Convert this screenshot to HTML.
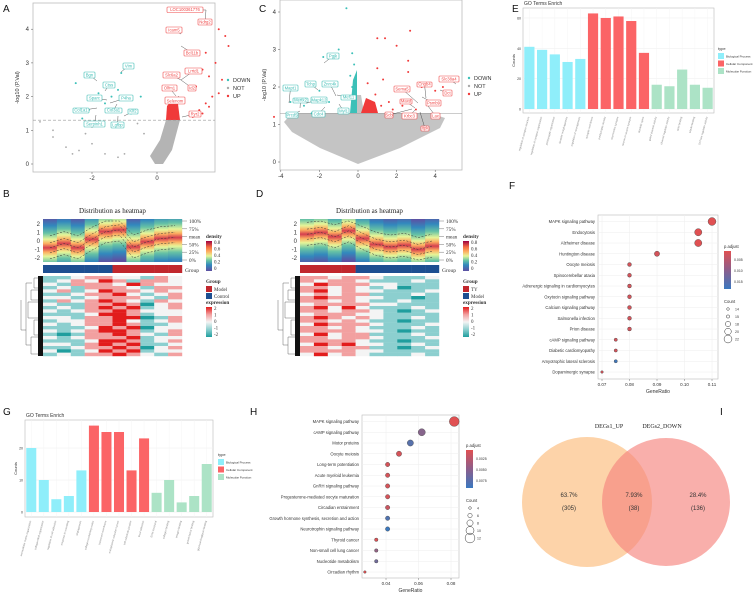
<!DOCTYPE html>
<html><head><meta charset="utf-8"><style>
body{margin:0;background:#fff;}
svg{display:block;font-family:"Liberation Sans",sans-serif;}
</style></head><body>
<svg id="fig" width="753" height="592" viewBox="0 0 753 592" xmlns="http://www.w3.org/2000/svg">
<g id="root"></g>
</svg>
<script>
// ---------- DATA ----------
const volcAUp = [[1.3,1.6],[1.5,1.8],[1.2,2.3],[1.6,2.6],[1.8,3.0],[1.5,3.3],[2.1,3.8],[2.2,3.5],[1.9,4.0],[3.9,4.6],[3.6,1.4],[1.7,2.0],[1.4,1.5],[1.1,1.4],[1.9,2.1],[1.6,1.7],[2.0,2.5],[1.4,2.8]];
const volcADown = [[-2.3,1.35],[-2.1,1.6],[-1.6,1.8],[-1.4,2.0],[-1.2,2.2],[-1.1,2.7],[-0.9,1.9],[-0.5,2.0],[-2.5,2.4],[-1.8,2.1],[-0.8,1.5]];
const volcANot = [[-3.2,1.0],[-3.2,0.8],[-2.8,0.5],[-2.4,0.4],[-2.2,0.9],[-2.0,1.1],[-1.6,0.3],[-1.2,0.2],[-1.0,0.3],[-0.6,1.2],[-2.6,0.3],[-2.0,0.6],[-3.6,1.25],[-0.4,0.9]];
const volcALabelsUp = ["LOC100361776","Ndrg2","Icam5","Bcl11b","Lrrtd1","Slc6a2","Olfm1","Id2","Selenom","Ryr2"];
const volcALabelsDown = ["Vim","Bgn","Ctss","Sparc","P4ha","Col1a1","Col3a1","Klf2","Serpinh1","Lgfbp"];
const volcCUp = [[1.0,3.3],[1.4,3.3],[2.7,3.5],[2.0,3.1],[2.6,2.7],[1.0,2.5],[1.3,2.2],[2.6,2.4],[3.3,2.0],[4.0,1.9],[4.4,2.0],[0.9,1.8],[1.6,1.6],[2.3,1.5],[3.0,1.4],[0.6,1.6],[0.8,1.4],[1.2,1.5],[1.8,1.4],[0.5,2.1]];
const volcCDown = [[-0.6,4.1],[-1.0,3.0],[-0.3,2.9],[-0.2,2.6],[-0.4,2.3],[-0.3,2.0],[-0.2,1.8],[-1.8,2.8],[-2.0,1.9],[-3.5,1.6],[-2.8,1.5],[-2.4,1.3],[-0.5,1.7],[-1.5,1.6],[-0.3,1.4]];
const volcCLabelsUp = ["Sema5","Cngb4","Slc38a4","Dct","Psmb9","Maxd","Scb","Krbc3","Lax","Itpk"];
const volcCLabelsDown = ["Pgjk","Mapt1","Tchp","Znrc4k","Mertk2","Mapk12","Mef11","Prcd5","Cdc4","Myl1"];
const densMeansB = [-0.8,-0.3,-0.8,0.2,1.1,1.3,-0.7,-0.1,0.3,0.4];
const densMeansD = [0.8,1.0,0.5,1.2,0.3,-0.4,-0.7,-0.5,-1.0,-0.6];
const groupB = ["Control","Control","Control","Control","Control","Model","Model","Model","Model","Model"];
const groupD = ["TY","TY","TY","TY","Model","Model","Model","Model","Model","Model"];
const heatB = ["1123322132","1232431332","2133324322","1213332133","2312433232","1123342123","2212333213","1323432132","2113343023","1213434123","2123343222","1112443122","2213344013","1223342123","2123343112","1112434022","2123443123","1013343213","2123334122","1112443123","2213434112","1123343023","2012434122","1213343213"];
const heatD = ["3323321112","3233211121","2433322111","3323212011","3423221112","2323311121","3433221101","3323211211","2333322111","3424211121","3323321012","2333221111","3432321121","3323211011","2433321112","3323211121","3333221011","2423311121","3323321112","3333211011","2434221121","3323311012","3333221111","2423211121"];
const goTypes = ["Biological Process","Biological Process","Biological Process","Biological Process","Biological Process","Cellular Component","Cellular Component","Cellular Component","Cellular Component","Cellular Component","Molecular Function","Molecular Function","Molecular Function","Molecular Function","Molecular Function"];
const goTermsE = ["regulation of synapse structure","regulation of synapse organization","postsynaptic organization","dendrite morphogenesis","regulation of neurogenesis","synaptic membrane","postsynaptic density","asymmetric synapse","neuron to neuron synapse","dendritic spine","gated channel activity","channel regulator activity","actin binding","tubulin binding","GTPase regulator activity"];
const goCountsE = [41,39,36,31,33,63,60,61,58,37,16,15,26,16,14];
const goTermsG = ["extracellular matrix organization","collagen fibril organization","regulation of cell adhesion","response to wounding","angiogenesis","collagen-containing matrix","basement membrane","endoplasmic reticulum lumen","cell-substrate junction","focal adhesion","ECM structural","collagen binding","integrin binding","growth factor binding","glycosaminoglycan binding"];
const goCountsG = [20,10,4,5,13,27,25,25,13,23,6,10,3,5,15];
const keggTermsF = ["MAPK signaling pathway","Endocytosis","Alzheimer disease","Huntington disease","Oocyte meiosis","Spinocerebellar ataxia","Adrenergic signaling in cardiomyocytes","Oxytocin signaling pathway","Calcium signaling pathway","Salmonella infection","Prion disease","cAMP signaling pathway","Diabetic cardiomyopathy","Amyotrophic lateral sclerosis","Dopaminergic synapse"];
const keggRatioF = [0.110,0.105,0.105,0.090,0.080,0.080,0.080,0.080,0.080,0.080,0.080,0.075,0.075,0.075,0.070];
const keggCountF = [22,21,21,18,16,16,16,16,16,16,16,15,15,15,14];
const keggPadjF = [0.002,0.002,0.002,0.003,0.003,0.003,0.003,0.003,0.003,0.003,0.003,0.003,0.003,0.0145,0.003];
const keggTermsH = ["MAPK signaling pathway","cAMP signaling pathway","Motor proteins","Oocyte meiosis","Long-term potentiation","Acute myeloid leukemia","GnRH signaling pathway","Progesterone-mediated oocyte maturation","Circadian entrainment","Growth hormone synthesis, secretion and action","Neurotrophin signaling pathway","Thyroid cancer","Non-small cell lung cancer","Nucleotide metabolism","Circadian rhythm"];
const keggRatioH = [0.082,0.062,0.055,0.048,0.041,0.041,0.041,0.041,0.041,0.041,0.041,0.034,0.034,0.034,0.027];
const keggCountH = [12,9,8,7,6,6,6,6,6,6,6,5,5,5,4];
const keggPadjH = [0.001,0.005,0.0072,0.0015,0.0015,0.0015,0.0015,0.0015,0.002,0.0075,0.0085,0.0012,0.0045,0.006,0.001];
const vennLabels = ["DEGs1_UP","DEGs2_DOWN"];
const vennPct = ["63.7%","7.93%","28.4%"];
const vennCounts = [305,38,136];

// ---------- HELPERS ----------
const NS="http://www.w3.org/2000/svg";
const root=document.getElementById('root');
function el(tag,attrs,parent,text){const e=document.createElementNS(NS,tag);for(const k in attrs)e.setAttribute(k,attrs[k]);if(text!==undefined)e.textContent=text;(parent||root).appendChild(e);return e;}
function txt(x,y,s,size,opt,parent){const o=Object.assign({x:x,y:y,'font-size':size,fill:'#333'},opt||{});return el('text',o,parent,s);}
const defs=el('defs',{});

const letters=[["A",3,12],["C",259,12],["E",512,12],["B",3,197],["D",256,197],["F",509,189],["G",3,415],["H",250,415],["I",720,415]];
letters.forEach(l=>{const t=txt(l[1],l[2],l[0],10,{fill:'#111'});

});

// ---------- VOLCANO ----------
function volcano(cfg){
 const g=el('g',{});  
 const X=v=>cfg.x0+v*cfg.sx, Y=v=>cfg.y0-v*cfg.sy;
 el('rect',{x:cfg.fx0,y:cfg.fy0,width:cfg.fx1-cfg.fx0,height:cfg.fy1-cfg.fy0,fill:'#fff',stroke:'#bbb','stroke-width':0.8},g);
 cfg.cloud(g,X,Y);
 cfg.not.forEach(p=>{const c=el('circle',{cx:X(p[0]),cy:Y(p[1]),r:0.9,fill:'#aaa'},g);});
 el('line',{x1:cfg.fx0,x2:cfg.fx1,y1:Y(1.3),y2:Y(1.3),stroke:'#999','stroke-width':0.6,'stroke-dasharray':cfg.dash},g);
 cfg.down.forEach(p=>{const c=el('circle',{cx:X(p[0]),cy:Y(p[1]),r:1,fill:'#3cc0b8'},g);});
 cfg.up.forEach(p=>{const c=el('circle',{cx:X(p[0]),cy:Y(p[1]),r:1,fill:'#f03a3a'},g);});
 cfg.ylab.forEach(v=>{el('line',{x1:cfg.fx0-2,x2:cfg.fx0,y1:Y(v),y2:Y(v),stroke:'#555','stroke-width':0.5},g);txt(cfg.fx0-4,Y(v)+2,String(v),6,{'text-anchor':'end'},g);});
 cfg.xlab.forEach(v=>{el('line',{x1:X(v),x2:X(v),y1:cfg.fy1,y2:cfg.fy1+2,stroke:'#555','stroke-width':0.5},g);txt(X(v),cfg.fy1+8,String(v),6,{'text-anchor':'middle'},g);});
 const yt=txt(cfg.fx0-14,(cfg.fy0+cfg.fy1)/2,"-log10 (P.Val)",5.5,{'text-anchor':'middle',transform:`rotate(-90 ${cfg.fx0-14} ${(cfg.fy0+cfg.fy1)/2})`},g);
 
 cfg.boxes.forEach(b=>{
  const col=b[5]?'#f04848':'#3cbcb4';
  el('line',{x1:b[6],y1:b[7],x2:(b[0]+b[2])/2,y2:(b[1]+b[3])/2,stroke:'#333','stroke-width':0.4},g);
  const r=el('rect',{x:b[0],y:b[1],width:b[2]-b[0],height:b[3]-b[1],fill:'#fff',stroke:col,'stroke-width':0.6,rx:0.8},g);
  
  txt((b[0]+b[2])/2,b[3]-1.4,b[4],4.2,{'text-anchor':'middle',fill:col},g);
 });
 [['DOWN','#3cc0b8'],['NOT','#aaa'],['UP','#f03a3a']].forEach((l,i)=>{
  const c=el('circle',{cx:cfg.lx,cy:cfg.ly+i*8,r:1.2,fill:l[1]},g);
  txt(cfg.lx+5,cfg.ly+i*8+2,l[0],5.5,{},g);});
}
const boxesA=[[167,7,203,12.5,volcALabelsUp[0],1,206,10],[198,19,212,25,volcALabelsUp[1],1,206,10],[166,27,182,33,volcALabelsUp[2],1,181,34],[184,50,200,56,volcALabelsUp[3],1,181,46],[185,68,202,74,volcALabelsUp[4],1,181,80],[163,72,180,78,volcALabelsUp[5],1,181,80],[162,85,177,91,volcALabelsUp[6],1,176,96],[188,85,196,91,volcALabelsUp[7],1,181,80],[165,97,185,104,volcALabelsUp[8],1,179,96],[189,111,201,117,volcALabelsUp[9],1,182,117],
[123,63,134,69,volcALabelsDown[0],0,121,72],[84,72,95,78,volcALabelsDown[1],0,97,81],[103,82,115,88,volcALabelsDown[2],0,105,91],[87,95,102,101,volcALabelsDown[3],0,107,100],[119,95,133,101,volcALabelsDown[4],0,110,103],[73,108,89,113,volcALabelsDown[5],0,97,108],[105,108,122,113,volcALabelsDown[6],0,117,104],[128,109,138,114,volcALabelsDown[7],0,124,116],[84,121,105,127,volcALabelsDown[8],0,96,115],[111,122,124,128,volcALabelsDown[9],0,118,116]];
volcano({name:'volcano-a',fx0:33,fx1:215,fy0:3,fy1:172,x0:157,sx:32.5,y0:164,sy:33.7,dash:'3 2',
 up:volcAUp,down:volcADown,not:volcANot,ylab:[0,1,2,3,4],xlab:[-2,0],lx:228,ly:80,boxes:boxesA,
 cloud:(g,X,Y)=>{el('path',{d:`M155,164 L163,164 L172,150 L180,120 L166,120 L160,140 L150,156 Z`,fill:'#b4b4b4'},g);
 el('path',{d:`M166,120 L180,120 L178,104 L172,100 L167,106 Z`,fill:'#f03a3a'},g);}});

const boxesC=[[327,53,339,59,volcCLabelsDown[0],0,324,63],[283,85,298,91,volcCLabelsDown[1],0,289,103],[305,81,316,87,volcCLabelsDown[2],0,318,90],[322,81,338,87,volcCLabelsDown[3],0,336,96],[293,98,308,103,volcCLabelsDown[4],0,300,108],[311,97,327,103,volcCLabelsDown[5],0,306,103],[341,95,356,100,volcCLabelsDown[6],0,337,95],[286,112,298,118,volcCLabelsDown[7],0,300,111],[312,111,325,117,volcCLabelsDown[8],0,325,107],[338,108,349,114,volcCLabelsDown[9],0,339,104],
[394,86,410,92,volcCLabelsUp[0],1,418,103],[417,82,432,87,volcCLabelsUp[1],1,426,98],[439,76,459,82,volcCLabelsUp[2],1,456,84],[443,90,452,96,volcCLabelsUp[3],1,440,90],[426,100,441,106,volcCLabelsUp[4],1,422,97],[400,99,412,104,volcCLabelsUp[5],1,415,108],[385,112,393,118,volcCLabelsUp[6],1,412,109],[402,113,417,119,volcCLabelsUp[7],1,415,110],[431,113,440,119,volcCLabelsUp[8],1,428,106],[421,126,429,131,volcCLabelsUp[9],1,420,112]];
volcano({name:'volcano-c',fx0:280,fx1:462,fy0:0,fy1:170,x0:358,sx:19.3,y0:162,sy:37.5,dash:'none',
 up:volcCUp,down:volcCDown,not:[],ylab:[0,1,2,3,4],xlab:[-4,-2,0,2,4],lx:469,ly:78,boxes:boxesC,
 cloud:(g,X,Y)=>{el('path',{d:`M358,164 L320,148 L292,132 L284,122 L292,113 L352,113 L355,95 L361,95 L364,113 L430,113 L445,118 L440,128 L400,148 Z`,fill:'#c4c4c4'},g);
 el('path',{d:`M350,113 L357,113 L357,70 L353,80 Z`,fill:'#3cc0b8'},g);
 el('path',{d:`M361,113 L378,113 L375,102 L366,98 Z`,fill:'#f03a3a'},g);}});

// ---------- DISTRIBUTION HEATMAPS ----------
const spec=[[0,'#5e4fa2'],[0.2,'#3288bd'],[0.35,'#66c2a5'],[0.5,'#e6f598'],[0.65,'#fdae61'],[0.8,'#f46d43'],[1,'#9e0142']];
function expCol(d){return ['#1f9e9e','#8ccfcf','#f4f4f4','#f2a0a0','#e21c1c'][d];}
function distPanel(cfg){
 const g=el('g',{});  
 const x0=cfg.x, w=139, n=10, cw=w/n, yz=241, sy=8.5;
 const Y=v=>yz-v*sy;
 const tt=txt(x0+w/2,213,"Distribution as heatmap",7,{'text-anchor':'middle','font-family':'Liberation Serif,serif',fill:'#222'},g);
 
 el('rect',{x:x0,y:219,width:w,height:43,fill:'#5e4fa2'},g);
 cfg.means.forEach((m,i)=>{
  const id=cfg.name+'grad'+i;
  const lg=el('linearGradient',{id:id,gradientUnits:'userSpaceOnUse',x1:0,x2:0,y1:Y(m+3.6),y2:Y(m-3.6)},defs);
  [[0,'#5e4fa2'],[0.14,'#3288bd'],[0.26,'#66c2a5'],[0.36,'#e6f598'],[0.43,'#fdae61'],[0.5,'#d53e4f'],[0.57,'#fdae61'],[0.64,'#e6f598'],[0.74,'#66c2a5'],[0.86,'#3288bd'],[1,'#5e4fa2']].forEach(s=>el('stop',{offset:s[0],'stop-color':s[1]},lg));
  const r=el('rect',{x:x0+i*cw,y:219,width:cw+0.2,height:43,fill:`url(#${id})`},g);
  
 });
 [[1.4,'100'],[0.6,'75'],[0,'mean'],[0,'50'],[-0.6,'25'],[-1.3,'0']].forEach((q,k)=>{
  if(k===3)return;
  let d='';cfg.means.forEach((m,i)=>{const yy=Math.max(221,Math.min(260,Y(m+q[0])));d+=(i?'L':'M')+(x0+i*cw+cw/2)+','+yy;});
  el('path',{d:d,fill:'none',stroke:'#333','stroke-width':0.5,'stroke-dasharray':'2 1.5'},g);});
 [2,1,0,-1,-2].forEach(v=>txt(x0-3,Y(v)+2,String(v),6,{'text-anchor':'end'},g));
 ['100%','75%','mean','50%','25%','0%'].forEach((s,i)=>{el('line',{x1:x0+w,x2:x0+w+5,y1:221+i*7.8,y2:221+i*7.8,stroke:'#555','stroke-width':0.4},g);txt(x0+w+7,223+i*7.8,s,5.2,{'font-family':'Liberation Serif,serif'},g);});
 cfg.group.forEach((gp,i)=>{const r=el('rect',{x:x0+i*cw,y:265,width:cw+0.2,height:8,fill:gp===cfg.redGroup?'#c1272d':'#1d4f91'},g);});
 txt(x0+w+3,272,'Group',5.5,{'font-family':'Liberation Serif,serif'},g);
 const rh=80/cfg.heat.length;
 cfg.heat.forEach((row,j)=>{for(let i=0;i<n;i++){const c=el('rect',{x:x0+i*cw,y:276+j*rh,width:cw+0.2,height:rh+0.2,fill:expCol(+row[i])},g);}});
 const dg=el('g',{},g);
 el('rect',{x:x0-5,y:276,width:5,height:80,fill:'#111'},dg);
 [[278,288],[290,300],[302,318],[320,335],[337,354]].forEach((b,k)=>{const xl=x0-9-(k%3)*3;el('path',{d:`M${x0-5},${b[0]}H${xl}V${b[1]}H${x0-5}`,fill:'none',stroke:'#444','stroke-width':0.4},dg);});
 el('path',{d:`M${x0-17},283V345 M${x0-17},283H${x0-11} M${x0-17},345H${x0-12} M${x0-22},300V330H${x0-17}`,fill:'none',stroke:'#444','stroke-width':0.4},dg);
 const lx=x0+w+24;
 txt(lx,238,'density',5.2,{'font-weight':'bold','font-family':'Liberation Serif,serif'},g);
 const sg=el('linearGradient',{id:cfg.name+'spec',x1:0,x2:0,y1:1,y2:0},defs);spec.forEach(s=>el('stop',{offset:s[0],'stop-color':s[1]},sg));
 el('rect',{x:lx,y:241,width:6,height:30,fill:`url(#${cfg.name}spec)`},g);
 ['0.8','0.6','0.4','0.2','0'].forEach((s,i)=>txt(lx+8,244+i*6.5,s,5,{'font-family':'Liberation Serif,serif'},g));
 txt(lx,283,'Group',5.2,{'font-weight':'bold','font-family':'Liberation Serif,serif'},g);
 cfg.gLegend.forEach((s,i)=>{el('rect',{x:lx,y:286+i*7,width:6,height:6,fill:i===0?'#c1272d':'#1d4f91'},g);txt(lx+8,291+i*7,s,5,{'font-family':'Liberation Serif,serif'},g);});
 txt(lx,304,'expression',5.2,{'font-weight':'bold','font-family':'Liberation Serif,serif'},g);
 const eg=el('linearGradient',{id:cfg.name+'exp',x1:0,x2:0,y1:0,y2:1},defs);[0,1,2,3,4].forEach(k=>el('stop',{offset:k/4,'stop-color':expCol(4-k)},eg));
 el('rect',{x:lx,y:307,width:6,height:30,fill:`url(#${cfg.name}exp)`},g);
 ['2','1','0','-1','-2'].forEach((s,i)=>txt(lx+8,310+i*6.5,s,5,{'font-family':'Liberation Serif,serif'},g));
}
distPanel({name:'distribution-b',x:43,means:densMeansB,group:groupB,redGroup:'Model',heat:heatB,gLegend:['Model','Control']});
distPanel({name:'distribution-d',x:300,means:densMeansD,group:groupD,redGroup:'TY',heat:heatD,gLegend:['TY','Model']});

// ---------- GO BAR CHARTS ----------
const typeCol={"Biological Process":'#8feefa',"Cellular Component":'#fb6466',"Molecular Function":'#ace3c6'};
function goBar(cfg){
 const g=el('g',{});  
 const Y=v=>cfg.y0-v*cfg.sy, n=cfg.counts.length, step=(cfg.fx1-cfg.fx0)/n;
 txt(cfg.fx0+1,cfg.fy0-3,'GO Terms Enrich',5,{},g);
 el('rect',{x:cfg.fx0,y:cfg.fy0,width:cfg.fx1-cfg.fx0,height:cfg.fy1-cfg.fy0,fill:'#fff',stroke:'#bbb','stroke-width':0.6},g);
 cfg.ticks.forEach(v=>{el('line',{x1:cfg.fx0,x2:cfg.fx1,y1:Y(v),y2:Y(v),stroke:'#eee','stroke-width':0.5},g);txt(cfg.fx0-2,Y(v)+1.5,String(v),3.5,{'text-anchor':'end'},g);});
 cfg.counts.forEach((v,i)=>{const cx=cfg.fx0+step*(i+0.5);
  el('line',{x1:cx,x2:cx,y1:cfg.fy0,y2:cfg.fy1,stroke:'#f2f2f2','stroke-width':0.4},g);
  const b=el('rect',{x:cx-step*0.4,y:Y(v),width:step*0.8,height:Y(0)-Y(v),fill:typeCol[goTypes[i]]},g);
  
  txt(cx,cfg.fy1+4,cfg.terms[i],2.6,{'text-anchor':'end',fill:'#888',transform:`rotate(-75 ${cx} ${cfg.fy1+4})`},g);
 });
 const yt=txt(cfg.fx0-8,(cfg.fy0+cfg.fy1)/2,'Counts',4,{'text-anchor':'middle',transform:`rotate(-90 ${cfg.fx0-8} ${(cfg.fy0+cfg.fy1)/2})`},g);
 
 txt(cfg.lx,cfg.ly,'type',4,{},g);
 Object.keys(typeCol).forEach((k,i)=>{const r=el('rect',{x:cfg.lx,y:cfg.ly+3+i*7.5,width:6,height:6,fill:typeCol[k]},g);txt(cfg.lx+8,cfg.ly+7.5+i*7.5,k,3,{},g);});
}
goBar({name:'go-bar-chart-e',terms:goTermsE,counts:goCountsE,fx0:523,fx1:714,fy0:8,fy1:113,y0:109,sy:1.517,ticks:[0,20,40,60],lx:718,ly:50});
goBar({name:'go-bar-chart-g',terms:goTermsG,counts:goCountsG,fx0:25,fx1:213,fy0:420,fy1:517,y0:512,sy:3.2,ticks:[0,10,20],lx:218,ly:456});

// ---------- KEGG DOT PLOTS ----------
function padjCol(t){const a=[224,80,82],b=[58,120,190];return `rgb(${a.map((v,i)=>Math.round(v+(b[i]-v)*t)).join(',')})`;}
function dotPlot(cfg){
 const g=el('g',{});  
 const X=v=>cfg.xa+(v-cfg.va)*cfg.sx, n=cfg.terms.length, step=(cfg.ylast-cfg.yfirst)/(n-1);
 el('rect',{x:cfg.fx0,y:cfg.fy0,width:cfg.fx1-cfg.fx0,height:cfg.fy1-cfg.fy0,fill:'#fff',stroke:'#bbb','stroke-width':0.6},g);
 cfg.xt.forEach(v=>{el('line',{x1:X(v),x2:X(v),y1:cfg.fy0,y2:cfg.fy1,stroke:'#eee','stroke-width':0.5},g);el('line',{x1:X(v),x2:X(v),y1:cfg.fy1,y2:cfg.fy1+2,stroke:'#555','stroke-width':0.4},g);txt(X(v),cfg.fy1+7,v.toFixed(2),4.5,{'text-anchor':'middle'},g);});
 cfg.terms.forEach((t,i)=>{const y=cfg.yfirst+i*step;
  el('line',{x1:cfg.fx0,x2:cfg.fx1,y1:y,y2:y,stroke:'#eee','stroke-width':0.5},g);
  txt(cfg.fx0-3,y+1.5,t,4.2,{'text-anchor':'end'},g);
  const c=el('circle',{cx:X(cfg.ratio[i]),cy:y,r:cfg.rs(cfg.count[i]),fill:padjCol((cfg.padj[i]-cfg.pmin)/(cfg.pmax-cfg.pmin)),stroke:'#444','stroke-width':0.4},g);
  
 });
 const xt=txt((cfg.fx0+cfg.fx1)/2,cfg.fy1+14,'GeneRatio',5,{'text-anchor':'middle'},g);
 
 txt(cfg.lx,cfg.ly,'p.adjust',4.2,{},g);
 const pg=el('linearGradient',{id:cfg.name+'pg',x1:0,x2:0,y1:0,y2:1},defs);el('stop',{offset:0,'stop-color':'#e05052'},pg);el('stop',{offset:0.5,'stop-color':'#8c5e8c'},pg);el('stop',{offset:1,'stop-color':'#3a78c0'},pg);
 el('rect',{x:cfg.lx,y:cfg.ly+3,width:7,height:38,fill:`url(#${cfg.name}pg)`},g);
 cfg.pl.forEach((s,i)=>txt(cfg.lx+10,cfg.ly+13+i*11,s,3.5,{},g));
 txt(cfg.lx,cfg.ly+55,'Count',4.2,{},g);
 cfg.cl.forEach((v,i)=>{const c=el('circle',{cx:cfg.lx+4,cy:cfg.ly+61+i*7.5,r:cfg.rs(v),fill:'none',stroke:'#333','stroke-width':0.5},g);txt(cfg.lx+11,cfg.ly+62.5+i*7.5,String(v),3.5,{},g);});
}
dotPlot({name:'kegg-dotplot-f',terms:keggTermsF,ratio:keggRatioF,count:keggCountF,padj:keggPadjF,pmin:0.002,pmax:0.015,
 fx0:598,fx1:718,fy0:215,fy1:379,yfirst:221.5,ylast:372,xa:602,va:0.07,sx:2750,xt:[0.07,0.08,0.09,0.10,0.11],
 rs:v=>1.3+(v-14)*0.33,lx:724,ly:248,pl:['0.005','0.010','0.015'],cl:[14,15,18,20,22]});
dotPlot({name:'kegg-dotplot-h',terms:keggTermsH,ratio:keggRatioH,count:keggCountH,padj:keggPadjH,pmin:0.001,pmax:0.0085,
 fx0:362,fx1:459,fy0:415,fy1:578,yfirst:421.5,ylast:572,xa:386,va:0.04,sx:1625,xt:[0.04,0.06,0.08],
 rs:v=>1.3+(v-4)*0.45,lx:466,ly:447,pl:['0.0025','0.0050','0.0075'],cl:[4,6,8,10,12]});

// ---------- VENN ----------
(function(){
 const g=el('g',{});  
 const a=el('circle',{cx:587,cy:502,r:65,fill:'#fcc48c','fill-opacity':0.75},g);
 const b=el('circle',{cx:666,cy:502,r:64,fill:'#f6847e','fill-opacity':0.65},g);
 txt(609,428,vennLabels[0],6,{'text-anchor':'middle','font-family':'Liberation Serif,serif',fill:'#222'},g);
 txt(662,428,vennLabels[1],6,{'text-anchor':'middle','font-family':'Liberation Serif,serif',fill:'#222'},g);
 [569,634,698].forEach((x,i)=>{txt(x,497,vennPct[i],6,{'text-anchor':'middle'},g);txt(x,510,'('+vennCounts[i]+')',6,{'text-anchor':'middle'},g);});
})();
</script>
</body></html>
